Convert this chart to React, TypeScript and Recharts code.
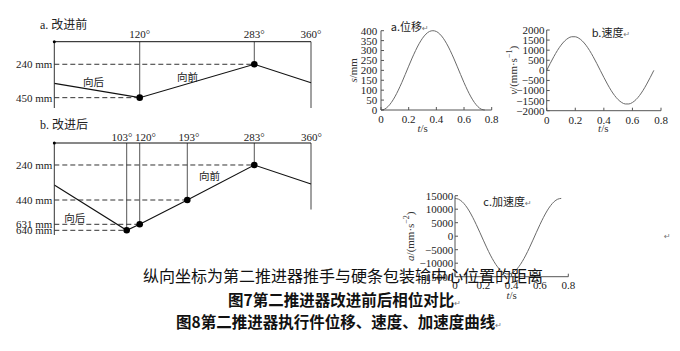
import React from 'react';
import { LineChart, Line, XAxis, YAxis, ReferenceLine, ReferenceDot } from 'recharts';

// ---------------- data ----------------
// phase diagram a (before improvement)
const phaseDegTicksA = [120, 283, 360];
const phaseMmTicksA = [240, 450];
const phaseLineA = [
  { deg: 0, mm: 360 },
  { deg: 120, mm: 450 },
  { deg: 283, mm: 240 },
  { deg: 360, mm: 356 },
];
// phase diagram b (after improvement)
const phaseDegTicksB = [103, 120, 193, 283, 360];
const phaseMmTicksB = [240, 440, 631, 640];
const phaseLineB = [
  { deg: 0, mm: 354 },
  { deg: 103, mm: 640 },
  { deg: 120, mm: 631 },
  { deg: 193, mm: 440 },
  { deg: 283, mm: 240 },
  { deg: 360, mm: 349 },
];
const phaseTopMmA = 98;
const phaseTopMmB = 100;
const phaseFrameEndMm = 515; // lower end of the 360° line
const phaseBottomMmB = 646;

// motion curves
const timeTicks = [0, 0.2, 0.4, 0.6, 0.8];
const dispTicks = [0, 50, 100, 150, 200, 250, 300, 350, 400];
const velTicks = [-2000, -1500, -1000, -500, 0, 500, 1000, 1500, 2000];
const accTicks = [-15000, -10000, -5000, 0, 5000, 10000, 15000];
const times = [0, 0.025, 0.05, 0.075, 0.1, 0.125, 0.15, 0.175, 0.2, 0.225, 0.25, 0.275, 0.3, 0.325, 0.35, 0.375, 0.4, 0.425, 0.45, 0.475, 0.5, 0.525, 0.55, 0.575, 0.6, 0.625, 0.65, 0.675, 0.7, 0.725, 0.75];
const displacement = [0, 4, 17, 38, 66, 100, 138, 179, 221, 262, 300, 334, 362, 383, 396, 400, 396, 383, 362, 334, 300, 262, 221, 179, 138, 100, 66, 38, 17, 4, 0];
const velocity = [0, 348, 681, 985, 1245, 1451, 1593, 1666, 1666, 1593, 1451, 1245, 985, 681, 348, 0, -348, -681, -985, -1245, -1451, -1593, -1666, -1666, -1593, -1451, -1245, -985, -681, -348, 0];
const acceleration = [14000, 13700, 12800, 11330, 9370, 7000, 4330, 1460, -1460, -4330, -7000, -9370, -11330, -12800, -13700, -14000, -13700, -12800, -11330, -9370, -7000, -4330, -1460, 1460, 4330, 7000, 9370, 11330, 12800, 13700, 14000];

const motionRows = times.map((t, i) => ({ t, s: displacement[i], v: velocity[i], a: acceleration[i] }));

// ---------------- styling / scales ----------------
const SERIF = '"Liberation Serif", "Times New Roman", serif';
const CJK = '"Noto Sans CJK SC", "Noto Sans", sans-serif';
const MIXED = '"Liberation Serif", "Noto Sans CJK SC", serif';

// the phase diagrams are not drawn to scale: piecewise-linear scale through knots
function makeKnotScale(values: number[], fracs: number[]): any {
  let dom: any[] = [values[0], values[values.length - 1]];
  let rng: number[] = [0, 1];
  const n = values.length;
  const toFrac = (v: number) => {
    let i = 0;
    if (v <= values[0]) i = 0;
    else if (v >= values[n - 1]) i = n - 2;
    else {
      while (i < n - 2 && v > values[i + 1]) i++;
    }
    const v0 = values[i], v1 = values[i + 1];
    return fracs[i] + ((v - v0) / (v1 - v0)) * (fracs[i + 1] - fracs[i]);
  };
  const s: any = (v: any) => {
    const num = Number(v);
    if (v === null || v === undefined || Number.isNaN(num)) return NaN;
    const lo = Math.min(rng[0], rng[1]);
    const hi = Math.max(rng[0], rng[1]);
    return lo + toFrac(num) * (hi - lo);
  };
  s.domain = (d?: any) => {
    if (d === undefined) return dom.slice();
    dom = [...d];
    return s;
  };
  s.range = (r?: any) => {
    if (r === undefined) return rng.slice();
    rng = [...r];
    return s;
  };
  s.copy = () => makeKnotScale(values, fracs).domain(dom).range(rng);
  s.ticks = () => values.slice();
  s.tickFormat = () => (v: any) => String(v);
  s.nice = () => s;
  s.clamp = () => s;
  s.invert = (px: number) => {
    const lo = Math.min(rng[0], rng[1]);
    const hi = Math.max(rng[0], rng[1]);
    const f = (px - lo) / (hi - lo);
    let i = 0;
    while (i < n - 2 && f > fracs[i + 1]) i++;
    return values[i] + ((f - fracs[i]) / (fracs[i + 1] - fracs[i])) * (values[i + 1] - values[i]);
  };
  return s;
}

const degScaleA = makeKnotScale([0, 120, 283, 360], [0, 0.3327, 0.7791, 1]);
const degScaleB = makeKnotScale([0, 103, 120, 193, 283, 360], [0, 0.282, 0.3327, 0.5181, 0.7791, 1]);
const mmScaleB = makeKnotScale([100, 240, 440, 631, 640, 646], [0, 0.2391, 0.6196, 0.8837, 0.9489, 1]);

const degShiftB: Record<number, number> = { 103: -4.7, 120: 5.8, 193: 1.7, 283: 0, 360: 0.5 };

function DegTick(props: any) {
  const { x, y, payload, shift } = props;
  const dx = (shift && shift[payload.value]) || 0;
  return (
    <text x={x + dx} y={y} textAnchor="middle" fontSize={11} fontFamily={SERIF} fill="#222">
      {payload.value}°
    </text>
  );
}

const dotRenderer = (count: number) => (p: any) => {
  const { cx, cy, index } = p;
  if (index === 0 || index === count - 1) return <g key={`d${index}`} />;
  return <circle key={`d${index}`} cx={cx} cy={cy} r={3.3} fill="#000" />;
};

function PhaseChart(props: {
  data: { deg: number; mm: number }[];
  degTicks: number[];
  mmTicks: number[];
  xScale: any;
  yScale: any;
  yDomain: number[];
  reversed: boolean;
  height: number;
  marginTop: number;
  marginBottom: number;
  tickMargin: number;
  shift?: Record<number, number>;
  topMm: number;
}) {
  const { data, degTicks, mmTicks, xScale, yScale, yDomain, reversed, height, marginTop, marginBottom, tickMargin, shift, topMm } = props;
  const inner = data.slice(1, data.length - 1);
  return (
    <LineChart width={340} height={height} data={data} margin={{ top: marginTop, right: 29, bottom: marginBottom, left: 0 }}>
      <XAxis
        dataKey="deg"
        type="number"
        orientation="top"
        scale={xScale}
        domain={[0, 360]}
        ticks={degTicks}
        interval={0}
        height={20}
        tickLine={false}
        tickSize={0}
        tickMargin={tickMargin}
        axisLine={{ stroke: '#111', strokeWidth: 1 }}
        tick={(p: any) => <DegTick {...p} shift={shift} />}
      />
      <YAxis
        dataKey="mm"
        type="number"
        scale={yScale}
        domain={yDomain}
        reversed={reversed}
        ticks={mmTicks}
        interval={0}
        width={54.3}
        tickLine={false}
        tickSize={0}
        tickMargin={2}
        axisLine={{ stroke: '#333', strokeWidth: 1 }}
        tick={{ fontSize: 11, fontFamily: SERIF, fill: '#222' }}
        tickFormatter={(v: number) => `${v} mm`}
      />
      {inner.map((pt) => (
        <ReferenceLine
          key={`v${pt.deg}`}
          ifOverflow="visible"
          segment={[{ x: pt.deg, y: topMm }, { x: pt.deg, y: pt.mm }]}
          stroke="#555"
          strokeWidth={1}
        />
      ))}
      <ReferenceLine
        ifOverflow="visible"
        segment={[{ x: 360, y: topMm }, { x: 360, y: phaseFrameEndMm }]}
        stroke="#444"
        strokeWidth={1}
      />
      {inner.map((pt) => (
        <ReferenceLine
          key={`h${pt.deg}`}
          ifOverflow="visible"
          segment={[{ x: 0, y: pt.mm }, { x: pt.deg, y: pt.mm }]}
          stroke="#333"
          strokeWidth={1}
          strokeDasharray="5 3"
        />
      ))}
      <ReferenceDot x={0} y={topMm} r={1.5} fill="#000" stroke="none" ifOverflow="visible" />
      <Line
        dataKey="mm"
        type="linear"
        stroke="#111"
        strokeWidth={1.1}
        isAnimationActive={false}
        dot={dotRenderer(data.length)}
        activeDot={false}
      />
    </LineChart>
  );
}

function YTitle({ viewBox, offsetX, children }: any) {
  const { x, y, height } = viewBox;
  const cx = x + offsetX;
  const cy = y + height / 2;
  return (
    <text x={cx} y={cy} transform={`rotate(-90 ${cx} ${cy})`} textAnchor="middle" dominantBaseline="central" fontSize={11} fontFamily={SERIF} fill="#333">
      {children}
    </text>
  );
}

function XTitle({ viewBox, dx, dy }: any) {
  const { x, y } = viewBox;
  return (
    <text x={x + dx} y={y + dy} textAnchor="middle" dominantBaseline="central" fontSize={11} fontFamily={SERIF} fill="#333">
      <tspan fontStyle="italic">t</tspan>/s
    </text>
  );
}

const fmtT = (v: number) => (v === 0 ? '0' : v.toFixed(1));
const fmtSigned = (v: number) => (v < 0 ? `\u2212${-v}` : `${v}`);

function MotionChart(props: any) {
  const { dataKey, domain, ticks, width, height, margin, yWidth, yTickMargin, xTickMargin, yTitle, yTitleX, xDx, xDy, fmt } = props;
  return (
    <LineChart width={width} height={height} data={motionRows} margin={margin}>
      <XAxis
        dataKey="t"
        type="number"
        domain={[0, 0.8]}
        ticks={timeTicks}
        interval={0}
        height={20}
        tickSize={-3}
        tickMargin={xTickMargin}
        tickFormatter={fmtT}
        axisLine={{ stroke: '#555', strokeWidth: 1 }}
        tickLine={{ stroke: '#555', strokeWidth: 1 }}
        tick={{ fontSize: 11, fontFamily: SERIF, fill: '#222' }}
        label={{ content: (p: any) => <XTitle viewBox={p.viewBox} dx={xDx} dy={xDy} /> }}
      />
      <YAxis
        type="number"
        domain={domain}
        ticks={ticks}
        interval={0}
        width={yWidth}
        tickSize={-3}
        tickMargin={yTickMargin}
        tickFormatter={fmt}
        axisLine={{ stroke: '#555', strokeWidth: 1 }}
        tickLine={{ stroke: '#555', strokeWidth: 1 }}
        tick={{ fontSize: 11, fontFamily: SERIF, fill: '#222' }}
        label={{ content: (p: any) => <YTitle viewBox={p.viewBox} offsetX={yTitleX}>{yTitle}</YTitle> }}
      />
      <Line dataKey={dataKey} type="monotone" stroke="#6a6a6a" strokeWidth={1} dot={false} activeDot={false} isAnimationActive={false} />
    </LineChart>
  );
}

function Txt({ x, y, size, children, weight, color, family }: any) {
  return (
    <div
      style={{
        position: 'absolute',
        left: x,
        top: y,
        transform: 'translateY(-50%)',
        fontSize: size,
        lineHeight: 1,
        fontFamily: family || MIXED,
        fontWeight: weight || 400,
        color: color || '#222',
        whiteSpace: 'nowrap',
      }}
    >
      {children}
    </div>
  );
}

const Mark = () => <span style={{ fontSize: 8, color: '#777', fontFamily: '"DejaVu Sans", sans-serif', fontWeight: 400 }}>↵</span>;

export default function App() {
  return (
    <div style={{ position: 'absolute', left: 0, top: 0, width: 680, height: 351, background: '#fff', overflow: 'hidden' }}>
      <div style={{ position: 'absolute', left: 0, top: 0 }}>
        <PhaseChart
          data={phaseLineA}
          degTicks={phaseDegTicksA}
          mmTicks={phaseMmTicksA}
          xScale={degScaleA}
          yScale="linear"
          yDomain={[phaseTopMmA, phaseFrameEndMm]}
          reversed={true}
          height={120}
          marginTop={21.7}
          marginBottom={12}
          tickMargin={4.1}
          topMm={phaseTopMmA}
        />
      </div>
      <div style={{ position: 'absolute', left: 0, top: 100 }}>
        <PhaseChart
          data={phaseLineB}
          degTicks={phaseDegTicksB}
          mmTicks={phaseMmTicksB}
          xScale={degScaleB}
          yScale={mmScaleB}
          yDomain={[phaseTopMmB, phaseBottomMmB]}
          reversed={false}
          height={145}
          marginTop={23}
          marginBottom={10}
          tickMargin={2.4}
          shift={degShiftB}
          topMm={phaseTopMmB}
        />
      </div>

      <div style={{ position: 'absolute', left: 340, top: 15 }}>
        <MotionChart
          dataKey="s"
          domain={[0, 400]}
          ticks={dispTicks}
          width={160}
          height={125}
          margin={{ top: 15.7, right: 8.3, bottom: 10, left: 0 }}
          yWidth={41}
          yTickMargin={6.7}
          xTickMargin={8}
          fmt={fmtSigned}
          yTitle={<><tspan fontStyle="italic">s</tspan>/mm</>}
          yTitleX={13.3}
          xDx={41.7}
          xDy={18}
        />
      </div>
      <div style={{ position: 'absolute', left: 505, top: 15 }}>
        <MotionChart
          dataKey="v"
          domain={[-2000, 2000]}
          ticks={velTicks}
          width={170}
          height={125}
          margin={{ top: 15, right: 14, bottom: 9.3, left: 0 }}
          yWidth={41.7}
          yTickMargin={5.2}
          xTickMargin={8}
          fmt={fmtSigned}
          yTitle={<><tspan fontStyle="italic">v</tspan>/(mm·s<tspan dy={-4} fontSize={8}>−1</tspan><tspan dy={4}>)</tspan></>}
          yTitleX={8.5}
          xDx={56.6}
          xDy={17.3}
        />
      </div>
      <div style={{ position: 'absolute', left: 400, top: 180 }}>
        <MotionChart
          dataKey="a"
          domain={[-15000, 15000]}
          ticks={accTicks}
          width={180}
          height={120}
          margin={{ top: 15.7, right: 11.7, bottom: 3.3, left: 0 }}
          yWidth={55}
          yTickMargin={4.7}
          xTickMargin={7.1}
          fmt={fmtSigned}
          yTitle={<><tspan fontStyle="italic">a</tspan>/(mm·s<tspan dy={-4} fontSize={8}>−2</tspan><tspan dy={4}>)</tspan></>}
          yTitleX={10.3}
          xDx={56.7}
          xDy={18.3}
        />
      </div>

      {/* diagram labels */}
      <Txt x={40} y={25} size={12}>a. 改进前</Txt>
      <Txt x={40} y={125} size={12}>b. 改进后</Txt>
      <Txt x={83} y={82.5} size={10.5}>向后</Txt>
      <Txt x={177} y={77.5} size={10.5}>向前</Txt>
      <Txt x={199} y={176.5} size={10.5}>向前</Txt>
      <Txt x={64.3} y={219} size={10.5}>向后</Txt>

      {/* chart titles */}
      <Txt x={390.7} y={26.7} size={11} family={CJK}>a.位移<Mark /></Txt>
      <Txt x={591.7} y={33.3} size={11} family={CJK}>b.速度<Mark /></Txt>
      <Txt x={483.3} y={201.7} size={11} family={CJK}>c.加速度<Mark /></Txt>
      <Txt x={664} y={236} size={10}><Mark /></Txt>

      {/* captions */}
      <Txt x={143} y={275} size={16} family={CJK} color="#111">纵向坐标为第二推进器推手与硬条包装输中心位置的距离</Txt>
      <Txt x={228} y={300} size={15.5} weight={700} family={CJK} color="#111">图7第二推进器改进前后相位对比<Mark /></Txt>
      <Txt x={176} y={321.7} size={15.5} weight={700} family={CJK} color="#111">图8第二推进器执行件位移、速度、加速度曲线<Mark /></Txt>
    </div>
  );
}
